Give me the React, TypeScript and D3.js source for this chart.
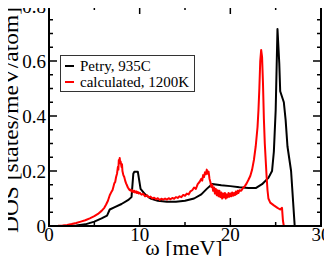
import * as d3 from "d3";

// Petry, 935C (measured)
const petryOmega = [0, 2, 3, 4, 5, 5.8, 6.4, 6.7, 7.2, 8, 8.8, 9.1, 9.3, 9.4, 9.8, 10.1, 10.6, 11.2, 12, 13, 14, 15, 16, 16.8, 17.4, 18, 19, 20, 21, 22, 22.8, 23.5, 24.2, 24.6, 24.8, 25.0, 25.2, 25.4, 25.5, 25.9, 26.1, 26.3, 26.7, 27.1, 30];
const petryDos = [0, 0, 0.002, 0.006, 0.016, 0.028, 0.038, 0.06, 0.068, 0.08, 0.096, 0.105, 0.19, 0.197, 0.197, 0.135, 0.115, 0.1, 0.092, 0.088, 0.088, 0.092, 0.1, 0.115, 0.135, 0.153, 0.148, 0.145, 0.141, 0.138, 0.138, 0.152, 0.175, 0.2, 0.27, 0.42, 0.716, 0.59, 0.49, 0.45, 0.385, 0.29, 0.2, 0, 0];

// calculated, 1200K
const calcOmega = [0, 1, 1.5, 2, 2.5, 3, 3.5, 4, 4.5, 5, 5.4, 5.8, 6.1, 6.3, 6.5, 6.7, 6.9, 7.0, 7.1, 7.2, 7.3, 7.4, 7.5, 7.6, 7.65, 7.7, 7.75, 7.8, 7.85, 7.9, 8.0, 8.05, 8.1, 8.2, 8.3, 8.4, 8.5, 8.6, 8.7, 8.8, 8.9, 9.0, 9.1, 9.2, 9.3, 9.4, 9.5, 9.6, 9.7, 9.8, 9.9, 10.0, 10.2, 10.4, 10.6, 10.8, 11.0, 11.2, 11.4, 11.6, 11.8, 12.0, 12.2, 12.4, 12.6, 12.8, 13.0, 13.2, 13.4, 13.6, 13.8, 14.0, 14.2, 14.4, 14.6, 14.8, 15.0, 15.2, 15.4, 15.6, 15.8, 16.0, 16.2, 16.4, 16.6, 16.8, 16.9, 17.0, 17.1, 17.2, 17.3, 17.4, 17.5, 17.6, 17.7, 17.8, 17.9, 18.0, 18.1, 18.2, 18.3, 18.4, 18.5, 18.6, 18.7, 18.8, 18.9, 19.0, 19.1, 19.2, 19.3, 19.4, 19.5, 19.6, 19.7, 19.8, 19.9, 20.0, 20.1, 20.2, 20.3, 20.4, 20.5, 20.6, 20.7, 20.8, 20.9, 21.0, 21.2, 21.4, 21.6, 21.8, 22.0, 22.2, 22.4, 22.6, 22.8, 23.0, 23.1, 23.2, 23.3, 23.4, 23.5, 23.6, 23.7, 23.8, 23.9, 24.0, 24.1, 24.2, 24.4, 24.8, 25.2, 25.5, 25.7, 25.8, 25.9, 30];
const calcDos = [0, 0.001, 0.002, 0.004, 0.007, 0.011, 0.016, 0.021, 0.028, 0.036, 0.044, 0.055, 0.066, 0.078, 0.092, 0.112, 0.125, 0.13, 0.142, 0.155, 0.16, 0.178, 0.19, 0.215, 0.205, 0.24, 0.228, 0.247, 0.23, 0.235, 0.215, 0.225, 0.2, 0.185, 0.178, 0.165, 0.155, 0.148, 0.14, 0.135, 0.13, 0.132, 0.126, 0.13, 0.124, 0.128, 0.122, 0.126, 0.12, 0.124, 0.118, 0.121, 0.114, 0.117, 0.108, 0.112, 0.104, 0.107, 0.1, 0.103, 0.097, 0.101, 0.095, 0.099, 0.096, 0.1, 0.096, 0.101, 0.097, 0.102, 0.099, 0.105, 0.102, 0.108, 0.105, 0.113, 0.11, 0.118, 0.115, 0.126, 0.13, 0.14, 0.135, 0.152, 0.16, 0.172, 0.165, 0.185, 0.178, 0.195, 0.188, 0.205, 0.19, 0.198, 0.172, 0.16, 0.142, 0.15, 0.128, 0.14, 0.118, 0.135, 0.112, 0.13, 0.108, 0.128, 0.105, 0.122, 0.1, 0.118, 0.104, 0.12, 0.1, 0.115, 0.104, 0.12, 0.106, 0.118, 0.108, 0.122, 0.11, 0.12, 0.112, 0.125, 0.116, 0.128, 0.12, 0.13, 0.128, 0.138, 0.145, 0.155, 0.168, 0.182, 0.205, 0.24, 0.29, 0.36, 0.42, 0.5, 0.6, 0.64, 0.615, 0.52, 0.39, 0.3, 0.24, 0.18, 0.13, 0.1, 0.085, 0.075, 0.066, 0.06, 0.066, 0.02, 0, 0];

const xTicks = [0, 10, 20, 30];
const yTicks = [0, 0.2, 0.4, 0.6, 0.8];
const xMinor = [5, 15, 25];
const yMinor = [0.05, 0.1, 0.15, 0.25, 0.3, 0.35, 0.45, 0.5, 0.55, 0.65, 0.7, 0.75];
const legendLabels = ["Petry, 935C", "calculated, 1200K"];
const seriesColors = ["#000000", "#ff0000"];

const width = 332;
const height = 264;
const margin = { top: 6, right: 11, bottom: 38, left: 49 };
const font = "'Liberation Serif', 'Times New Roman', serif";

export default function App() {
  const x = d3.scaleLinear().domain([0, 30]).range([margin.left, width - margin.right]);
  const y = d3.scaleLinear().domain([0, 0.8]).range([height - margin.bottom, margin.top]);
  const x0 = x(0), x1 = x(30), y0 = y(0), y1 = y(0.8);

  const line = d3
    .line<[number, number]>()
    .x((d) => x(d[0]))
    .y((d) => y(d[1]));

  const series: [number, number][][] = [
    petryOmega.map((w, i) => [w, petryDos[i]] as [number, number]),
    calcOmega.map((w, i) => [w, calcDos[i]] as [number, number]),
  ];

  // inward ticks on all four sides
  const xTickLines = (vals: number[], len: number) =>
    vals.flatMap((v) => [
      <line key={`xb${v}`} x1={x(v)} x2={x(v)} y1={y0} y2={y0 - len} />,
      <line key={`xt${v}`} x1={x(v)} x2={x(v)} y1={y1} y2={y1 + len} />,
    ]);
  const yTickLines = (vals: number[], len: number) =>
    vals.flatMap((v) => [
      <line key={`yl${v}`} x1={x0} x2={x0 + len} y1={y(v)} y2={y(v)} />,
      <line key={`yr${v}`} x1={x1} x2={x1 - len} y1={y(v)} y2={y(v)} />,
    ]);

  return (
    <div style={{ margin: "-8px" }}>
      <svg width={width} height={height} style={{ display: "block", background: "#fff" }}>
        <defs>
          <clipPath id="plotclip">
            <rect x={x0} y={y1} width={x1 - x0} height={y0 - y1} />
          </clipPath>
        </defs>

        {series.map((s, i) => (
          <path
            key={i}
            d={line(s) ?? ""}
            fill="none"
            stroke={seriesColors[i]}
            strokeWidth={2}
            strokeLinejoin="round"
            clipPath="url(#plotclip)"
          />
        ))}

        <g stroke="#000" strokeWidth={1.5}>
          {xTickLines(xTicks, 8)}
          {xTickLines(xMinor, 4)}
          {yTickLines(yTicks, 8)}
          {yTickLines(yMinor, 4)}
        </g>

        <rect x={x0} y={y1} width={x1 - x0} height={y0 - y1} fill="none" stroke="#000" strokeWidth={2} />

        <g style={{ fontFamily: font, fontSize: "19px" }}>
          {xTicks.map((d) => (
            <text key={`xl${d}`} x={x(d)} y={y0 + 15} textAnchor="middle">
              {d3.format("d")(d)}
            </text>
          ))}
          {yTicks.map((d) => (
            <text key={`yl${d}`} x={x0 - 3} y={y(d) + 7} textAnchor="end">
              {d === 0 ? "0" : d3.format(".1f")(d)}
            </text>
          ))}
        </g>

        <text x={184} y={255} textAnchor="middle" style={{ fontFamily: font, fontSize: "22px" }}>
          ω [meV]
        </text>
        <text
          transform={`translate(18,120) rotate(-90)`}
          textAnchor="middle"
          textLength={226}
          lengthAdjust="spacingAndGlyphs"
          style={{ fontFamily: font, fontSize: "21px" }}
        >
          DOS [states/meV/atom]
        </text>

        <g>
          <rect x={60.5} y={55.5} width={134} height={36} fill="#fff" stroke="#333" strokeWidth={1} />
          {legendLabels.map((label, i) => {
            const ly = 66 + i * 16;
            return (
              <g key={label}>
                <line x1={65} x2={74} y1={ly} y2={ly} stroke={seriesColors[i]} strokeWidth={2} />
                <text x={80} y={ly + 5} style={{ fontFamily: font, fontSize: "15px" }}>
                  {label}
                </text>
              </g>
            );
          })}
        </g>
      </svg>
    </div>
  );
}
